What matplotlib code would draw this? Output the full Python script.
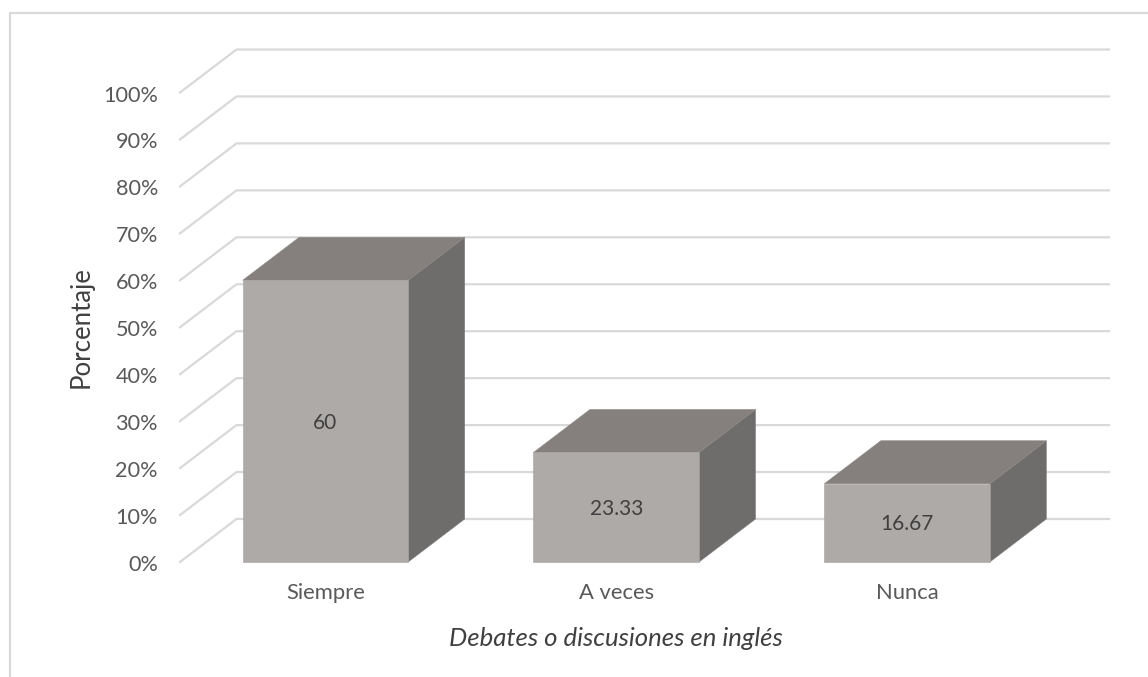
import matplotlib
matplotlib.use("Agg")
import matplotlib.pyplot as plt
from matplotlib.patches import Polygon

plt.rcParams['font.family'] = ['Lato', 'DejaVu Sans']

categories = ["Siempre", "A veces", "Nunca"]
values = [60, 23.33, 16.67]
value_labels = ["60", "23.33", "16.67"]
y_ticks = list(range(0, 101, 10))
y_tick_labels = [f"{t}%" for t in y_ticks]
x_title = "Debates o discusiones en inglés"
y_title = "Porcentaje"

W, H = 1148, 677
fig = plt.figure(figsize=(W / 100, H / 100), dpi=100, facecolor="white")

# floor plane (front edge) in pixels
L, R, B, T = 180.0, 1052.5, 562.0, 92.5
ax = fig.add_axes([L / W, 1 - B / H, (R - L) / W, (B - T) / H])
ax.set_xlim(-0.5, 2.5)
ax.set_ylim(0, 100)
ax.axis("off")

px_x = 3.0 / (R - L)
px_y = 100.0 / (B - T)
dx = 56.5 * px_x
dy = 43 * px_y
bar_w = 165.5 * px_x

GRID = "#d9d9d9"
TXT = "#595959"
FRONT = "#aeaaa8"
TOP = "#85807d"
SIDE = "#6f6c6c"
EDGE = "#a5a19f"

for t in y_ticks:
    ax.plot([-0.5, -0.5 + dx, 2.5 + dx], [t, t + dy, t + dy], color=GRID, lw=1.6,
            clip_on=False, zorder=1, solid_joinstyle="miter")
    ax.text(-0.5 - 22 * px_x, t - 1 * px_y, y_tick_labels[t // 10], ha="right", va="center_baseline",
            fontsize=15.6, color=TXT)

for i, (c, v, s) in enumerate(zip(categories, values, value_labels)):
    x0, x1 = i - bar_w / 2, i + bar_w / 2
    ax.add_patch(Polygon([(x1, 0), (x1 + dx, dy), (x1 + dx, v + dy), (x1, v)], closed=True,
                         fc=SIDE, ec="#7d7a7a", lw=0.4, clip_on=False, zorder=3))
    ax.add_patch(Polygon([(x0, v), (x1, v), (x1 + dx, v + dy), (x0 + dx, v + dy)], closed=True,
                         fc=TOP, ec="#8e8a87", lw=0.4, clip_on=False, zorder=3))
    ax.add_patch(Polygon([(x0, 0), (x1, 0), (x1, v), (x0, v)], closed=True,
                         fc=FRONT, ec=EDGE, lw=0.4, clip_on=False, zorder=4))
    ax.text(i, v / 2 - 1.5 * px_y, s, ha="center", va="center", fontsize=15, color="#404040", zorder=5)
    ax.text(i, -6.6, c, ha="center", va="center", fontsize=15.8, color=TXT)

fig.text(616 / W, 1 - 638 / H, x_title, ha="center", va="center", fontsize=18.5,
         style="italic", color="#404040")
fig.text(81 / W, 1 - 327 / H, y_title, ha="center", va="center", fontsize=18.5,
         rotation=90, color="#404040")

# chart frame: top and left edges inside the image
fig.add_artist(plt.Line2D([10 / W, 10 / W, 1], [0, 1 - 13 / H, 1 - 13 / H], color=GRID, lw=1.6))

fig.savefig("out.png", dpi=100)
